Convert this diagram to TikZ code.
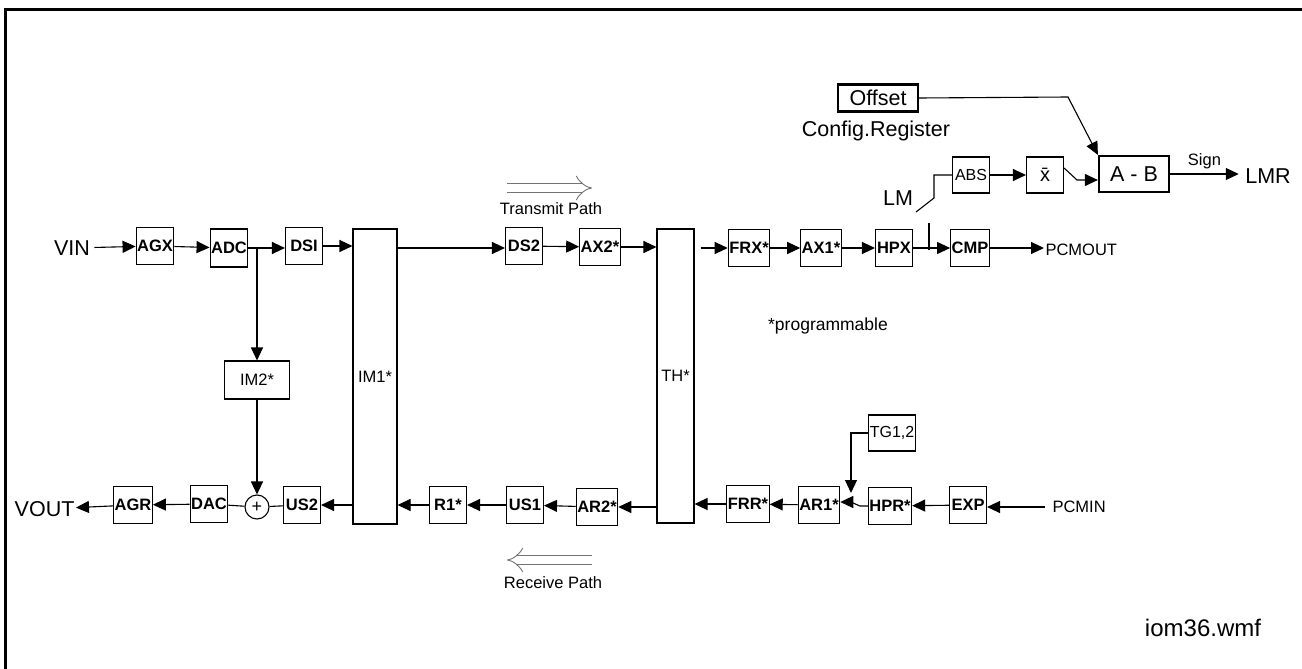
\documentclass[tikz,border=0pt]{standalone}
\usepackage{fontspec}
\setmainfont{Liberation Sans}
\usetikzlibrary{arrows.meta}

\begin{document}
\begin{tikzpicture}[x=1pt,y=-1pt,line width=1.1pt,
    blk/.style={draw, minimum width=37pt, minimum height=37pt, inner sep=1pt,
      font=\fontsize{16.5}{16.5}\selectfont\bfseries},
    plainblk/.style={draw, minimum width=37pt, minimum height=36pt, inner sep=1pt,
      font=\fontsize{16}{16}\selectfont},
    tall/.style={draw, minimum width=37pt, minimum height=294pt, inner sep=0pt,
      font=\fontsize{16.5}{16.5}\selectfont},
    bigtxt/.style={inner sep=4pt, font=\fontsize{21.5}{21.5}\selectfont},
    smtxt/.style={inner sep=3pt, font=\fontsize{16.5}{16.5}\selectfont},
    arr/.style={-{Triangle[length=13pt,width=12pt]}},
    pathmark/.style={black!55, double=white, double distance=8pt, line width=0.9pt, -{Implies}}]
  \useasboundingbox (0,0) rectangle (1302,669);
  % FRAME
  \draw[line width=3pt] (5,669) -- (5,10) -- (1302,10);

  % TRANSMIT ROW
  \node[bigtxt] (vin) at (72,248) {VIN};
  \node[blk] (agx) at (155,246) {AGX};
  \node[blk, minimum height=38pt] (adc) at (229,248) {ADC};
  \node[blk] (dsi) at (304,246) {DSI};
  \node[tall, minimum width=44pt, minimum height=295pt] (im1) at (375,376.5) {IM1*};
  \node[blk] (ds2) at (524,246) {DS2};
  \node[blk] (ax2) at (600,247) {AX2*};
  \node[tall] (th) at (675.5,376) {TH*};
  \node[blk] (frx) at (749,248) {FRX*};
  \node[blk] (ax1) at (821,248) {AX1*};
  \node[blk] (hpx) at (894,248) {HPX};
  \node[blk] (cmp) at (970,248) {CMP};
  \node[smtxt, anchor=west, inner sep=1pt] (pcmout) at (1044,250) {PCMOUT};
  \coordinate (tap) at (257,248);   % branch to IM2
  \coordinate (tapl) at (929,250);  % branch to LM

  % LEVEL METER
  \node[draw, line width=2.2pt, minimum width=80pt, minimum height=27pt, inner sep=1pt,
    font=\fontsize{21.5}{21.5}\selectfont] (offset) at (878,98) {Offset};
  \node[bigtxt] (config) at (876,131) {Config.Register};
  \node[plainblk] (abs) at (971,175) {ABS};
  \node[plainblk, font=\fontsize{20}{20}\selectfont] (xbar) at (1045,175) {\={x}};
  \node[draw, line width=2.2pt, minimum width=70pt, minimum height=36pt, inner sep=1pt,
    font=\fontsize{21.5}{21.5}\selectfont] (ab) at (1134,174) {A - B};
  \node[bigtxt, inner sep=6pt] (lmr) at (1268,176) {LMR};
  \node[bigtxt] (lm) at (898,198) {LM};
  \coordinate (lmin) at (916,212);
  \coordinate (xb) at (1077,180);
  \coordinate (ofs) at (1068,97);

  % RECEIVE ROW
  \node[bigtxt, anchor=east, inner sep=1pt] (vout) at (76,509) {VOUT};
  \node[blk] (agr) at (133,505) {AGR};
  \node[blk] (dac) at (209,504) {DAC};
  \node[draw, circle, minimum size=24pt, inner sep=0pt,
    font=\fontsize{18}{18}\selectfont] (sum) at (257,507) {+};
  \node[blk] (us2) at (302,505) {US2};
  \node[blk] (r1) at (448,505) {R1*};
  \node[blk] (us1) at (525,505) {US1};
  \node[blk] (ar2) at (597,507) {AR2*};
  \node[blk] (frr) at (748,504) {FRR*};
  \node[blk] (ar1) at (819,505) {AR1*};
  \node[blk] (hpr) at (890,506) {HPR*};
  \node[blk] (exp) at (968,505) {EXP};
  \node[smtxt, anchor=west, inner sep=1pt] (pcmin) at (1045,507) {\hspace{6pt}PCMIN};
  \node[plainblk, minimum width=65pt, minimum height=38pt,
    font=\fontsize{16.5}{16.5}\selectfont] (im2) at (257,380) {IM2*};
  \node[plainblk, minimum width=46pt] (tg) at (892,433) {TG1,2};
  \coordinate (sw) at (851,502);

  % ARROWS
  \draw[arr] (vin) -- (agx);
  \draw[arr] (agx) -- (adc);
  \draw[arr] (adc.east |- tap) -- (tap) -- (dsi.west |- tap);
  \draw[arr] (tap) -- (im2);
  \draw[arr] (im2) -- (sum);
  \draw[arr] (dsi) -- (dsi -| im1.west);
  \draw[arr] (im1.east |- tap) -- (ds2.west |- tap);
  \draw[arr] (ds2) -- (ax2);
  \draw[arr] (ax2) -- (ax2 -| th.west);
  \draw[arr] ([xshift=6pt]th.east |- frx) -- (frx);
  \draw[arr] (frx) -- (ax1);
  \draw[arr] (ax1) -- (hpx);
  \draw[arr] (hpx) -- (cmp);
  \draw (tapl) -- ++(0,-27);
  \draw[arr] (cmp) -- (pcmout.west |- cmp);

  \draw (lmin) -- (934,198) |- (abs.west);
  \draw[arr] (abs) -- (xbar);
  \draw[arr] ([yshift=7pt]xbar.east) -- (xb) -- (xb -| ab.west);
  \draw[arr] (offset.east) -- (ofs) -- (ab.north west);
  \draw[arr] (ab) -- (ab -| lmr.west) node[midway, above, smtxt, inner sep=5pt] {Sign};

  \draw[arr] (pcmin.west) -- (exp.east |- pcmin.west);
  \draw[arr] (exp) -- (hpr);
  \draw (hpr.west) -- ++(-8,0) -- (sw);
  \draw[arr] (sw) -- (sw -| ar1.east);
  \draw[arr] (tg.west) -| ([yshift=9pt]sw);
  \draw[arr] (ar1) -- (frr);
  \draw[arr] (frr) -- (frr -| th.east);
  \draw[arr] (th.west |- ar2) -- (ar2);
  \draw[arr] (ar2) -- (us1);
  \draw[arr] (us1) -- (r1);
  \draw[arr] (r1) -- (r1 -| im1.east);
  \draw[arr] (im1.west |- us2) -- (us2);
  \draw (us2) -- (sum) -- (dac);
  \draw[arr] (dac) -- (agr);
  \draw[arr] (agr) -- (vout);

  % NOTES
  \draw[pathmark] (507,188) -- (592,188);
  \node[smtxt] (txpath) at (551,209) {Transmit Path};
  \draw[pathmark] (592,560) -- (507,560);
  \node[smtxt] (rxpath) at (553,583) {Receive Path};
  \node[smtxt, font=\fontsize{17.5}{17.5}\selectfont] (prog) at (828,326) {*programmable};
  \node[bigtxt, font=\fontsize{24}{24}\selectfont] (fname) at (1203,628) {iom36.wmf};
\end{tikzpicture}
\end{document}
